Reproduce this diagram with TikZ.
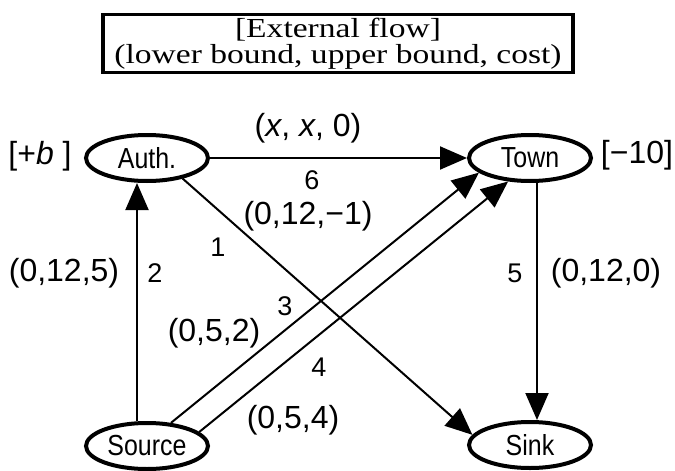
\documentclass[tikz,border=0pt]{standalone}
\usepackage{fontspec}
\setmainfont{Liberation Serif}
\newfontfamily\lsans{Liberation Sans}
\usetikzlibrary{arrows.meta,shapes.geometric}
\newcommand{\nodetxt}[1]{\scalebox{0.86}[1]{#1}}
\newcommand{\titletxt}[1]{\scalebox{1.22}[1]{#1}}
\begin{document}
\begin{tikzpicture}[x=1pt,y=-1pt,
  place/.style={ellipse, draw, line width=4pt, minimum width=122pt, minimum height=46pt, inner sep=0pt, font=\lsans\fontsize{29}{30}\selectfont},
  flow/.style={line width=2pt, -{Triangle[length=27pt,width=23pt]}},
  tuple/.style={font=\lsans\fontsize{32}{34}\selectfont, inner sep=0pt},
  num/.style={font=\lsans\fontsize{27}{30}\selectfont, inner sep=0pt},
  titlebox/.style={draw, line width=3.5pt, minimum width=470pt, minimum height=58pt, inner sep=0pt},
  titleline/.style={font=\fontsize{27.5}{27.5}\selectfont, inner sep=0pt, text height=19pt, text depth=5.5pt}]
\useasboundingbox (0,0) rectangle (675,471);

\node[titlebox] (title) at (338,43.5) {};
\node[titleline] (title1) at (338,30.5) {\titletxt{[External flow]}};
\node[titleline] (title2) at (338,56.5) {\titletxt{(lower bound, upper bound, cost)}};

\node[place] (auth) at (147,158) {\nodetxt{Auth.}};
\node[place] (town) at (530,158) {\nodetxt{Town}};
\node[place] (source) at (147,446) {\nodetxt{Source}};
\node[place] (sink) at (530,445) {\nodetxt{Sink}};

% edges
\draw[flow] (auth.east) -- (town.west);
\draw[flow] (auth.-30) -- (sink.170);
\draw[flow] ([xshift=-10pt]source.north) -- ([xshift=-10pt]auth.south);
\draw[flow] (source.44) -- (town.196);
\draw[flow] (source.15) -- (town.227);
\draw[flow] ([xshift=7pt]town.south) -- ([xshift=7pt]sink.north);

% supplies
\node[tuple] (supA) at (40,156) {[+\textit{b} ]};
\node[tuple] (supT) at (637,155) {[−10]};

% edge labels
\node[tuple] (t6) at (308,128) {(\textit{x}, \textit{x}, 0)};
\node[num] (n6) at (312,180) {6};
\node[tuple] (t1) at (308,216) {(0,12,−1)};
\node[num] (n1) at (218,247) {1};
\node[tuple] (t2) at (64,273) {(0,12,5)};
\node[num] (n2) at (155,273) {2};
\node[num] (n3) at (285,306) {3};
\node[tuple] (t3) at (214,333) {(0,5,2)};
\node[num] (n4) at (319,367) {4};
\node[tuple] (t4) at (293,420) {(0,5,4)};
\node[num] (n5) at (515,273) {5};
\node[tuple] (t5) at (606,273) {(0,12,0)};
\end{tikzpicture}
\end{document}
